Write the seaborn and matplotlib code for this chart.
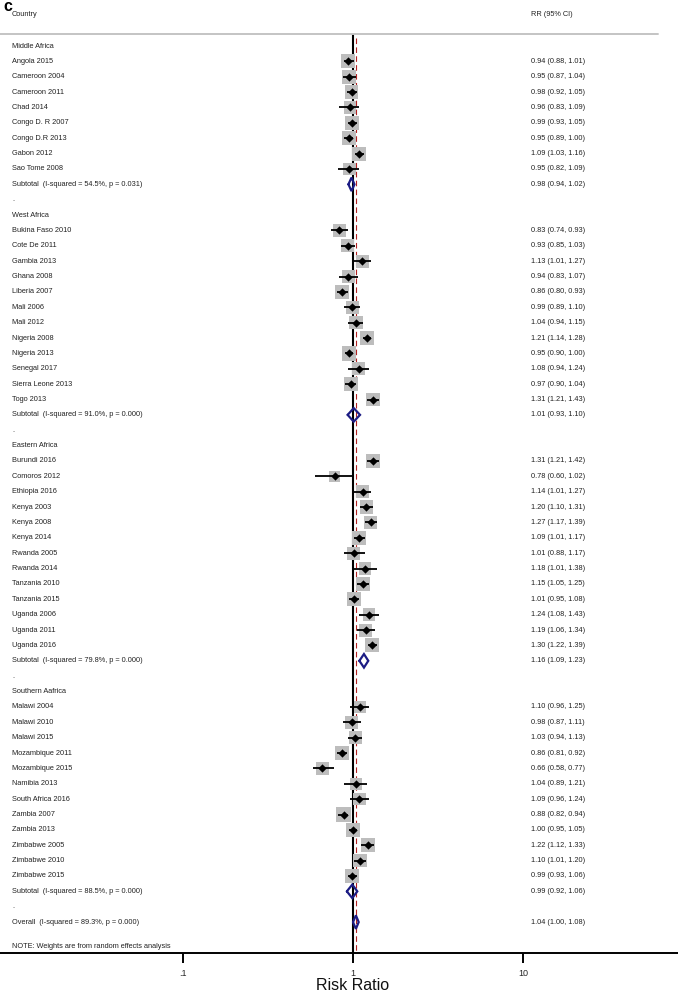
import numpy as np
import pandas as pd
import matplotlib
matplotlib.use("Agg")
import matplotlib.pyplot as plt
import matplotlib.transforms as mtransforms
import seaborn as sns

# ---------------- data ----------------
regions = ["Middle Africa", "West Africa", "Eastern Africa", "Southern Aafrica"]

middle_studies = ["Angola 2015", "Cameroon 2004", "Cameroon 2011", "Chad 2014",
                  "Congo D. R 2007", "Congo D.R 2013", "Gabon 2012", "Sao Tome 2008"]
middle_rr = [0.94, 0.95, 0.98, 0.96, 0.99, 0.95, 1.09, 0.95]
middle_lo = [0.88, 0.87, 0.92, 0.83, 0.93, 0.89, 1.03, 0.82]
middle_hi = [1.01, 1.04, 1.05, 1.09, 1.05, 1.00, 1.16, 1.09]
middle_w = [2.3, 2.2, 2.3, 1.9, 2.3, 2.4, 2.3, 1.9]

west_studies = ["Bukina Faso 2010", "Cote De 2011", "Gambia 2013", "Ghana 2008",
                "Liberia 2007", "Mali 2006", "Mali 2012", "Nigeria 2008",
                "Nigeria 2013", "Senegal 2017", "Sierra Leone 2013", "Togo 2013"]
west_rr = [0.83, 0.93, 1.13, 0.94, 0.86, 0.99, 1.04, 1.21, 0.95, 1.08, 0.97, 1.31]
west_lo = [0.74, 0.85, 1.01, 0.83, 0.80, 0.89, 0.94, 1.14, 0.90, 0.94, 0.90, 1.21]
west_hi = [0.93, 1.03, 1.27, 1.07, 0.93, 1.10, 1.15, 1.28, 1.00, 1.24, 1.04, 1.43]
west_w = [2.1, 2.1, 2.0, 2.0, 2.3, 2.1, 2.1, 2.4, 2.4, 1.9, 2.3, 2.2]

east_studies = ["Burundi 2016", "Comoros 2012", "Ethiopia 2016", "Kenya 2003",
                "Kenya 2008", "Kenya 2014", "Rwanda 2005", "Rwanda 2014",
                "Tanzania 2010", "Tanzania 2015", "Uganda 2006", "Uganda 2011",
                "Uganda 2016"]
east_rr = [1.31, 0.78, 1.14, 1.20, 1.27, 1.09, 1.01, 1.18, 1.15, 1.01, 1.24, 1.19, 1.30]
east_lo = [1.21, 0.60, 1.01, 1.10, 1.17, 1.01, 0.88, 1.01, 1.05, 0.95, 1.08, 1.06, 1.22]
east_hi = [1.42, 1.02, 1.27, 1.31, 1.39, 1.17, 1.17, 1.38, 1.25, 1.08, 1.43, 1.34, 1.39]
east_w = [2.2, 1.4, 2.0, 2.2, 2.2, 2.3, 1.9, 1.8, 2.2, 2.4, 1.9, 2.0, 2.3]

south_studies = ["Malawi 2004", "Malawi 2010", "Malawi 2015", "Mozambique 2011",
                 "Mozambique 2015", "Namibia 2013", "South Africa 2016", "Zambia 2007",
                 "Zambia 2013", "Zimbabwe 2005", "Zimbabwe 2010", "Zimbabwe 2015"]
south_rr = [1.10, 0.98, 1.03, 0.86, 0.66, 1.04, 1.09, 0.88, 1.00, 1.22, 1.10, 0.99]
south_lo = [0.96, 0.87, 0.94, 0.81, 0.58, 0.89, 0.96, 0.82, 0.95, 1.12, 1.01, 0.93]
south_hi = [1.25, 1.11, 1.13, 0.92, 0.77, 1.21, 1.24, 0.94, 1.05, 1.33, 1.20, 1.06]
south_w = [1.9, 2.0, 2.1, 2.4, 2.0, 1.8, 1.9, 2.4, 2.4, 2.2, 2.2, 2.4]

subtotal_labels = ["Subtotal  (I-squared = 54.5%, p = 0.031)",
                   "Subtotal  (I-squared = 91.0%, p = 0.000)",
                   "Subtotal  (I-squared = 79.8%, p = 0.000)",
                   "Subtotal  (I-squared = 88.5%, p = 0.000)"]
subtotal_rr = [0.98, 1.01, 1.16, 0.99]
subtotal_lo = [0.94, 0.93, 1.09, 0.92]
subtotal_hi = [1.02, 1.10, 1.23, 1.06]

overall_label = "Overall  (I-squared = 89.3%, p = 0.000)"
overall_rr, overall_lo, overall_hi = 1.04, 1.00, 1.08
note_text = "NOTE: Weights are from random effects analysis"

x_ticks = [0.1, 1, 10]
x_ticklabels = [".1", "1", "10"]

# ---------------- build table ----------------
groups = [
    (middle_studies, middle_rr, middle_lo, middle_hi, middle_w),
    (west_studies, west_rr, west_lo, west_hi, west_w),
    (east_studies, east_rr, east_lo, east_hi, east_w),
    (south_studies, south_rr, south_lo, south_hi, south_w),
]
rows = []  # (kind, label, rr, lo, hi, w)
for gi, (names, rr, lo, hi, w) in enumerate(groups):
    rows.append(("group", regions[gi], None, None, None, None))
    for n, r, l, h, ww in zip(names, rr, lo, hi, w):
        rows.append(("study", n, r, l, h, ww))
    rows.append(("subtotal", subtotal_labels[gi], subtotal_rr[gi],
                 subtotal_lo[gi], subtotal_hi[gi], None))
    rows.append(("blank", ".", None, None, None, None))
rows.append(("overall", overall_label, overall_rr, overall_lo, overall_hi, None))

df = pd.DataFrame(rows, columns=["kind", "label", "rr", "lo", "hi", "w"])
df["row"] = np.arange(len(df))
studies = df[df.kind == "study"].copy()
studies["w"] = studies["w"].astype(float)
pooled = df[df.kind.isin(["subtotal", "overall"])]

# ---------------- figure ----------------
sns.set_style("white")
plt.rcParams["font.family"] = ["Liberation Sans", "DejaVu Sans"]

W, H = 678, 991
fig = plt.figure(figsize=(W / 100, H / 100), dpi=100)
axis_px = 953
ax = fig.add_axes([0, (H - axis_px) / H, 1, axis_px / H])

row0_px, row_step = 46.0, 15.37
def px2row(p):
    return (p - row0_px) / row_step

one_px, decade_px = 353.0, 170.0
ax.set_xscale("log")
ax.set_xlim(10 ** (-one_px / decade_px), 10 ** ((W - one_px) / decade_px))
ax.set_ylim(px2row(axis_px), px2row(0))

line_top = px2row(34)
# null line and overall estimate line
ax.vlines(1, line_top, px2row(axis_px), color="black", lw=1.5, zorder=1)
ax.vlines(overall_rr, px2row(38), px2row(axis_px), color="#b22222", lw=0.8,
          linestyles=(0, (5, 3)), zorder=1)

# weight boxes (area proportional to weight)
sns.scatterplot(data=studies, x="rr", y="row", size="w",
                sizes=(44 * studies.w.min(), 44 * studies.w.max()),
                marker="s", color="#bdbdbd", linewidth=0, legend=False,
                ax=ax, zorder=2)
# confidence intervals
ax.hlines(studies.row, studies.lo, studies.hi, color="black", lw=1.3, zorder=3)
# point estimates
sns.scatterplot(data=studies, x="rr", y="row", marker="D", color="black",
                s=18, linewidth=0, legend=False, ax=ax, zorder=4)

# pooled diamonds
for _, r in pooled.iterrows():
    h = 0.44
    xs = [r.lo, r.rr, r.hi, r.rr, r.lo]
    ys = [r.row, r.row - h, r.row, r.row + h, r.row]
    ax.plot(xs, ys, color="#1c1c84", lw=1.6, solid_joinstyle="miter", zorder=5)

# texts
trans = mtransforms.blended_transform_factory(ax.transAxes, ax.transData)
fs = 5.3
tc = "#222222"
left_x = 12 / W
right_x = 531 / W
ax.text(left_x, px2row(15), "Country", transform=trans, fontsize=fs, color=tc,
        va="center", ha="left")
ax.text(right_x, px2row(15), "RR (95% CI)", transform=trans, fontsize=fs, color=tc,
        va="center", ha="left")
for _, r in df.iterrows():
    ax.text(left_x, r.row, r.label, transform=trans, fontsize=fs, color=tc,
            va="center", ha="left")
    if r.rr is not None and not pd.isna(r.rr):
        ax.text(right_x, r.row, f"{r.rr:.2f} ({r.lo:.2f}, {r.hi:.2f})",
                transform=trans, fontsize=fs, color=tc, va="center", ha="left")
ax.text(left_x, px2row(946), note_text, transform=trans, fontsize=fs, color=tc,
        va="center", ha="left")

# header rule
ax.plot([0, 0.97], [line_top, line_top], transform=trans, color="#c4c4c4",
        lw=1.4, zorder=1)

# axes styling
for s in ["top", "left", "right"]:
    ax.spines[s].set_visible(False)
ax.spines["bottom"].set_color("black")
ax.spines["bottom"].set_linewidth(1.4)
ax.set_yticks([])
ax.set_ylabel("")
ax.set_xlabel("")
ax.set_xticks(x_ticks)
ax.set_xticklabels(x_ticklabels)
ax.xaxis.set_minor_locator(matplotlib.ticker.NullLocator())
ax.tick_params(axis="x", direction="out", length=7, width=1.4, color="black",
               labelsize=6.5, pad=4.5, bottom=True)
ax.grid(False)

fig.text(one_px / W, 1 - 985 / H, "Risk Ratio", fontsize=11.5, ha="center",
         va="center", color="#111111")
fig.text(3 / W, 1 - 11 / H, "c", fontsize=11.5, fontweight="bold", ha="left",
         va="baseline", color="black")

fig.savefig("out.png", dpi=100)
